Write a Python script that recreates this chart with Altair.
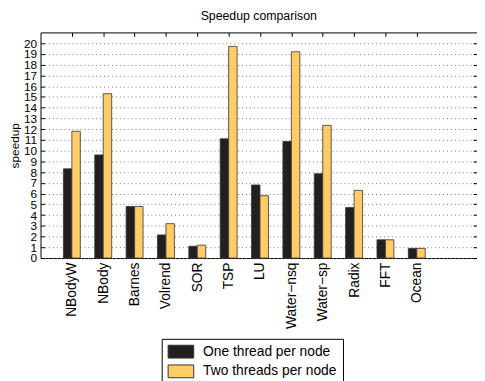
import json
import altair as alt
import pandas as pd

categories = ["NBodyW", "NBody", "Barnes", "Volrend", "SOR", "TSP", "LU",
              "Water\u2212nsq", "Water\u2212sp", "Radix", "FFT", "Ocean"]
one_thread = [8.3, 9.6, 4.8, 2.15, 1.1, 11.1, 6.8, 10.85, 7.85, 4.7, 1.7, 0.9]
two_threads = [11.8, 15.3, 4.8, 3.2, 1.2, 19.7, 5.8, 19.2, 12.35, 6.3, 1.7, 0.9]
series = ["One thread per node", "Two threads per node"]
y_ticks = list(range(0, 21))

rows = []
for i, c in enumerate(categories):
    rows.append(dict(cat=c, pos=i + 1, series=series[0], value=one_thread[i], k=0))
    rows.append(dict(cat=c, pos=i + 1, series=series[1], value=two_threads[i], k=1))
df = pd.DataFrame(rows)

W, H = 443, 229
XMAX = 13.92
BW = 0.27
FONT = "Liberation Sans"

xscale = alt.Scale(domain=[0, XMAX], nice=False, zero=False)
yscale = alt.Scale(domain=[0, 21], nice=False)
x_vals = list(range(1, len(categories) + 1))
label_expr = json.dumps(categories) + "[datum.value - 1]"

base = alt.Chart(df).transform_calculate(
    x0=f"datum.pos + (datum.k - 1) * {BW}",
    x1=f"datum.pos + datum.k * {BW}",
)

bars = base.mark_bar(stroke="#333333", strokeWidth=0.8).encode(
    x=alt.X("x0:Q", scale=xscale,
            axis=alt.Axis(values=x_vals, labelExpr=label_expr, labelAngle=270,
                          labelFontSize=14, ticks=False, tickSize=0, domain=False,
                          grid=False, title=None, labelPadding=4, labelColor="black",
                          labelOverlap=False)),
    x2="x1:Q",
    y=alt.Y("value:Q", scale=yscale,
            axis=alt.Axis(values=y_ticks, grid=True, gridDash=[1, 3], gridColor="#777777",
                          ticks=False, tickSize=0, domain=False, labelFontSize=12,
                          labelPadding=4, labelColor="black", labelOverlap=False,
                          title="speedup", titleFontSize=12, titleFontWeight="normal",
                          titleX=-26, titleY=H / 2, titleAlign="center",
                          titleBaseline="middle", titleColor="black")),
    y2=alt.datum(0),
    color=alt.Color("series:N",
                    scale=alt.Scale(domain=series, range=["#231f20", "#ffcc66"]),
                    legend=alt.Legend(orient="none", legendX=123, legendY=311,
                                      direction="vertical", title=None,
                                      strokeColor="black", fillColor="white",
                                      padding=6, symbolType="M-1,-1H3V1H-1Z",
                                      symbolSize=169, symbolStrokeColor="#333333",
                                      symbolStrokeWidth=1, labelFontSize=14,
                                      labelOffset=22, rowPadding=2,
                                      labelColor="black", symbolOpacity=1)),
)


def tick_layer(xaxis, yaxis):
    return base.mark_bar(opacity=0).encode(
        x=alt.X("x0:Q", scale=xscale, axis=xaxis),
        x2="x1:Q",
        y=alt.Y("value:Q", scale=yscale, axis=yaxis),
        y2=alt.datum(0),
    )


tick_common = dict(labels=False, grid=False, domain=False, tickSize=4, title=None,
                   ticks=True, tickColor="black")
left_ticks = tick_layer(None, alt.Axis(orient="right", offset=-W, values=y_ticks, **tick_common))
right_ticks = tick_layer(None, alt.Axis(orient="left", offset=-W, values=y_ticks, **tick_common))
top_ticks = tick_layer(alt.Axis(orient="bottom", offset=-H, values=x_vals, **tick_common), None)
bottom_ticks = tick_layer(alt.Axis(orient="top", offset=-H, values=x_vals, **tick_common), None)

chart = alt.layer(bars, left_ticks, right_ticks, top_ticks, bottom_ticks).resolve_axis(
    x="independent", y="independent"
).properties(
    width=W, height=H,
    title=alt.Title("Speedup comparison", fontSize=12.5, fontWeight="normal",
                    font=FONT, offset=10, color="black"),
    autosize=alt.AutoSizeParams(type="none"),
    padding={"left": 33, "top": 22, "right": 0, "bottom": 122},
).configure(font=FONT).configure_view(stroke="black", strokeWidth=1)

chart.save("out.html", embed_options={"renderer": "svg", "actions": False})
